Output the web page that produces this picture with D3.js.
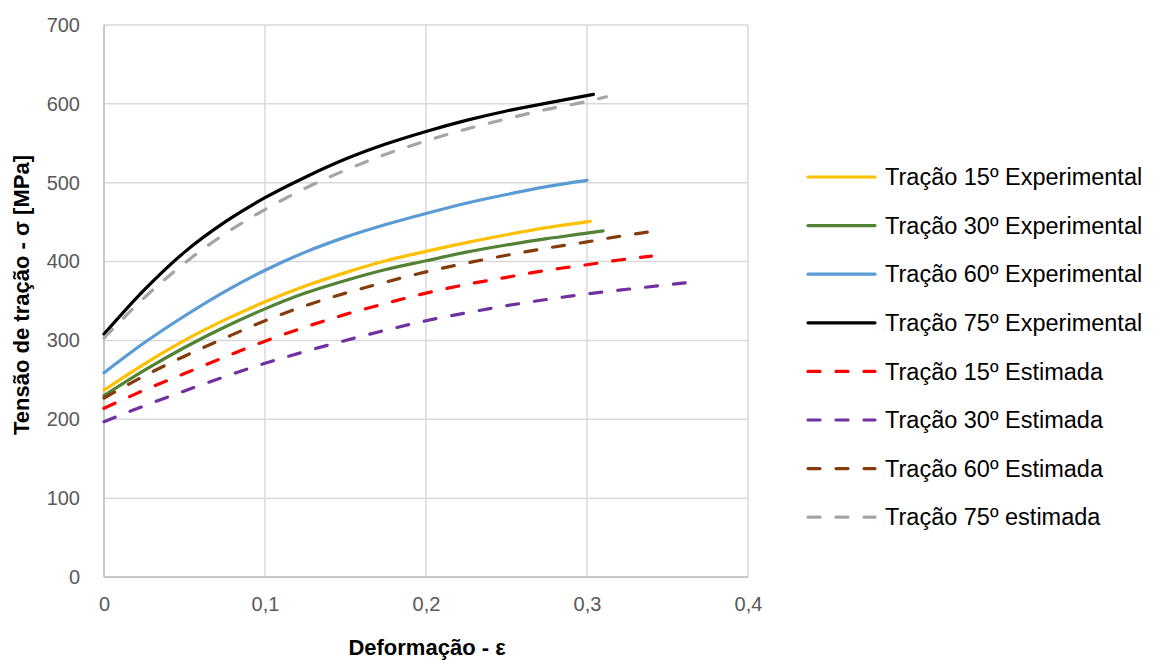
<!DOCTYPE html>
<html><head><meta charset="utf-8">
<script src="https://cdn.jsdelivr.net/npm/d3@7/dist/d3.min.js"></script>
<style>body{margin:0;background:#fff;} text{font-family:"Liberation Sans",Arial,sans-serif;}</style>
</head><body><svg id="c" width="1153" height="660"></svg>
<script>
const xTicks = [0, 0.1, 0.2, 0.3, 0.4];
const yTicks = [0, 100, 200, 300, 400, 500, 600, 700];
const xTickLabels = ["0", "0,1", "0,2", "0,3", "0,4"];

const seriesNames = ["Tração 15º Experimental","Tração 30º Experimental","Tração 60º Experimental","Tração 75º Experimental","Tração 15º Estimada","Tração 30º Estimada","Tração 60º Estimada","Tração 75º estimada"];

const exp15 = [[0,237],[0.025,270],[0.05,300],[0.075,326],[0.1,349],[0.125,369],[0.15,386],[0.175,401],[0.2,413],[0.225,424],[0.25,434],[0.275,443],[0.302,451]];
const exp30 = [[0,230],[0.025,262],[0.05,291],[0.075,317],[0.1,340],[0.125,360],[0.15,376],[0.175,390],[0.2,401],[0.225,412],[0.25,421],[0.275,429],[0.3,436],[0.31,439]];
const exp60 = [[0,259],[0.025,297],[0.05,331],[0.075,362],[0.1,389],[0.125,412],[0.15,431],[0.175,447],[0.2,461],[0.225,474],[0.25,485],[0.275,495],[0.3,503]];
const exp75 = [[0,308],[0.025,364],[0.05,412],[0.075,450],[0.1,481],[0.125,507],[0.15,530],[0.175,549],[0.2,565],[0.225,579],[0.25,591],[0.275,601],[0.304,612]];
const est15 = [[0,214],[0.025,237],[0.05,258],[0.075,279],[0.1,299],[0.125,317],[0.15,333],[0.175,347],[0.2,360],[0.225,371],[0.25,380],[0.275,389],[0.3,396],[0.32,402],[0.34,407]];
const est30 = [[0,197],[0.025,217],[0.05,236],[0.075,254],[0.1,271],[0.125,286],[0.15,300],[0.175,313],[0.2,325],[0.225,335],[0.25,344],[0.275,352],[0.3,359],[0.33,366],[0.361,373]];
const est60 = [[0,227],[0.025,255],[0.05,280],[0.075,303],[0.1,325],[0.125,344],[0.15,360],[0.175,374],[0.2,387],[0.225,398],[0.25,408],[0.275,417],[0.3,425],[0.32,432],[0.34,438]];
const est75 = [[0,303],[0.025,354],[0.05,398],[0.075,435],[0.1,466],[0.125,493],[0.15,516],[0.175,536],[0.2,553],[0.225,568],[0.25,581],[0.275,593],[0.3,603],[0.312,609]];

const seriesData = [exp15, exp30, exp60, exp75, est15, est30, est60, est75];
const colors = ["#ffc000","#548235","#5b9bd5","#000000","#ff0000","#7030a0","#843c0c","#a5a5a5"];
const dashed = [false,false,false,false,true,true,true,true];

const svg = d3.select("#c");
const L = 104, R = 748, T = 25, B = 577;
const x = d3.scaleLinear().domain([0, 0.4]).range([L, R]);
const y = d3.scaleLinear().domain([0, 700]).range([B, T]);

// gridlines
svg.append("g").selectAll("line").data(yTicks).join("line")
  .attr("x1", L).attr("x2", R).attr("y1", d => y(d)).attr("y2", d => y(d))
  .attr("stroke", "#d9d9d9").attr("stroke-width", 1.5);
svg.append("g").selectAll("line").data(xTicks).join("line")
  .attr("x1", d => x(d)).attr("x2", d => x(d)).attr("y1", T).attr("y2", B)
  .attr("stroke", "#d9d9d9").attr("stroke-width", 1.5);
// axis lines
svg.append("line").attr("x1", L).attr("x2", L).attr("y1", T).attr("y2", B).attr("stroke", "#bfbfbf").attr("stroke-width", 1.5);
svg.append("line").attr("x1", L).attr("x2", R).attr("y1", B).attr("y2", B).attr("stroke", "#bfbfbf").attr("stroke-width", 1.5);

// axes (labels only)
const yAxis = d3.axisLeft(y).tickValues(yTicks).tickSize(0).tickPadding(24);
const gy = svg.append("g").attr("transform", `translate(${L},0)`).call(yAxis);
gy.select(".domain").remove();
gy.selectAll("text").attr("font-size", 20).attr("fill", "#595959").attr("font-family", "Liberation Sans, Arial, sans-serif");

const xAxis = d3.axisBottom(x).tickValues(xTicks).tickFormat((d,i) => xTickLabels[i]).tickSize(0).tickPadding(20);
const gx = svg.append("g").attr("transform", `translate(0,${B})`).call(xAxis);
gx.select(".domain").remove();
gx.selectAll("text").attr("font-size", 20).attr("fill", "#595959").attr("font-family", "Liberation Sans, Arial, sans-serif");

// lines
const line = d3.line().x(d => x(d[0])).y(d => y(d[1])).curve(d3.curveMonotoneX);
seriesData.forEach((s, i) => {
  svg.append("path").datum(s).attr("d", line)
    .attr("fill", "none").attr("stroke", colors[i]).attr("stroke-width", 3.2)
    .attr("stroke-linecap", "round")
    .attr("stroke-dasharray", dashed[i] ? "12,16" : null);
});

// axis titles
svg.append("text").attr("x", 427).attr("y", 655).attr("text-anchor", "middle")
  .attr("font-size", 22).attr("font-weight", "bold").attr("fill", "#000").text("Deformação - ε");
svg.append("text").attr("transform", "translate(29,295) rotate(-90)").attr("text-anchor", "middle")
  .attr("font-size", 22).attr("font-weight", "bold").attr("fill", "#000").text("Tensão de tração - σ [MPa]");

// legend
const lg = svg.append("g");
seriesNames.forEach((n, i) => {
  const cy = 177 + i * 48.6;
  lg.append("line").attr("x1", 808).attr("x2", 875).attr("y1", cy).attr("y2", cy)
    .attr("stroke", colors[i]).attr("stroke-width", 3.2).attr("stroke-linecap", "round")
    .attr("stroke-dasharray", dashed[i] ? "12,16" : null);
  lg.append("text").attr("x", 885).attr("y", cy).attr("dy", "0.35em")
    .attr("font-size", 23.5).attr("fill", "#000").text(n);
});
</script></body></html>
